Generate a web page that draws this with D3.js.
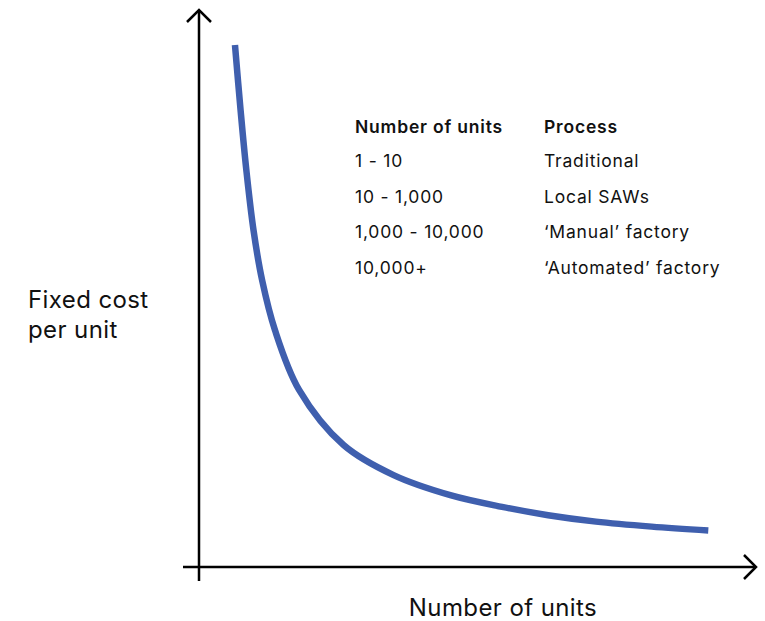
<!DOCTYPE html>
<html><head><meta charset="utf-8">
<script src="https://cdn.jsdelivr.net/npm/d3@7"></script>
<style>body{margin:0;background:#fff}svg{display:block}text{font-family:Inter,"Noto Sans",sans-serif;fill:#111}</style>
</head><body>
<svg id="c" width="765" height="621"></svg>
<script>
// Curve (arbitrary units)
const unitsX = [6.47, 7.48, 8.51, 9.80, 11.35, 13.67, 18.0, 26.0, 35.0, 45.2, 54.5, 62.8, 71.4, 81.4, 91.6];
const costY  = [93.7, 82.0, 71.3, 60.5, 51.5, 42.5, 31.8, 21.9, 16.5, 12.9, 10.8, 9.3, 8.15, 7.25, 6.55];
const tableHeaders = ["Number of units", "Process"];
const rangesCol = ["1 - 10", "10 - 1,000", "1,000 - 10,000", "10,000+"];
const processCol = ["Traditional", "Local SAWs", "\u2018Manual\u2019 factory", "\u2018Automated\u2019 factory"];
const yTitle = ["Fixed cost", "per unit"];
const xTitle = "Number of units";

const svg = d3.select("#c");
const x = d3.scaleLinear().domain([0, 100]).range([199, 755]);
const y = d3.scaleLinear().domain([0, 100]).range([567, 10]);

// axes
const ax = svg.append("g").attr("stroke", "#000").attr("stroke-width", 2.5).attr("fill", "none")
  .attr("stroke-linecap", "butt");
ax.append("line").attr("x1", x(0)).attr("x2", x(0)).attr("y1", y(0) + 14).attr("y2", y(100));
ax.append("line").attr("x1", x(0) - 16).attr("x2", x(100) + 1).attr("y1", y(0)).attr("y2", y(0));
ax.append("path").attr("d", `M${x(0)-12},${y(100)+12}L${x(0)},${y(100)}L${x(0)+12},${y(100)+12}`);
ax.append("path").attr("d", `M${x(100)-11},${y(0)-12}L${x(100)+1},${y(0)}L${x(100)-11},${y(0)+12}`);

// curve
const pts = unitsX.map((u, i) => [u, costY[i]]);
svg.append("path").datum(pts)
  .attr("fill", "none").attr("stroke", "#3f5fae").attr("stroke-width", 6.5)
  .attr("d", d3.line().x(d => x(d[0])).y(d => y(d[1])).curve(d3.curveCatmullRom.alpha(0.5)));

// table
const t = svg.append("g").style("font-size", "17.5px").style("letter-spacing", "0.8px");
t.selectAll("text.h").data(tableHeaders).join("text").attr("class", "h")
  .attr("x", (d, i) => i ? 544 : 355).attr("y", 133).style("font-weight", 600).text(d => d);
t.selectAll("text.r").data(rangesCol).join("text").attr("class", "r")
  .attr("x", 355).attr("y", (d, i) => 167 + i * 35.7).text(d => d);
t.selectAll("text.p").data(processCol).join("text").attr("class", "p")
  .attr("x", 544).attr("y", (d, i) => 167 + i * 35.7).text(d => d);

// axis titles
svg.append("g").selectAll("text").data(yTitle).join("text")
  .attr("x", 28).attr("y", (d, i) => 308 + i * 30).style("font-size", "24px")
  .style("letter-spacing", "0.4px").text(d => d);
svg.append("text").attr("x", 503).attr("y", 616).attr("text-anchor", "middle")
  .style("font-size", "24px").style("letter-spacing", "0.4px").text(xTitle);
</script>
</body></html>
